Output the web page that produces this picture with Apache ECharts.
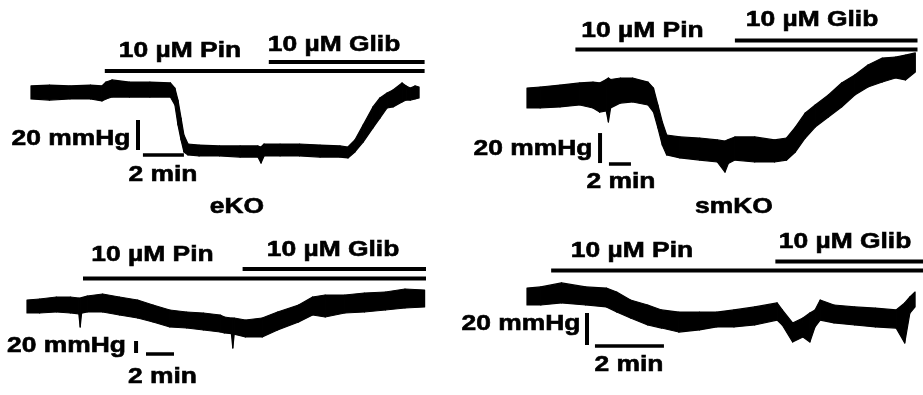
<!DOCTYPE html>
<html>
<head>
<meta charset="utf-8">
<title>Perfusion pressure traces</title>
<script src="https://cdn.jsdelivr.net/npm/echarts@6.0.0/dist/echarts.min.js"></script>
<style>
html, body { margin: 0; padding: 0; background: #fff; }
#chart { width: 923px; height: 395px; }
</style>
</head>
<body>
<div id="chart"></div>
<script>
// labels
const groupNames = ['eKO', 'smKO'];
const drugLabels = ['10 µM Pin', '10 µM Glib'];
const scaleLabels = ['20 mmHg', '2 min'];
const scaleMmHg = 20;
const scaleMin = 2;

// drug application per trace (min): A = eKO top, B = smKO top, C = eKO bottom, D = smKO bottom
const pinOn = [3.6, 4.4, 4.0, 0.7];
const glibOn = [11.6, 18.9, 15.4, 7.2];
const drugEnd = [19.2, 35.5, 28.5, 11.48];

// trace A (min, mmHg upper / lower edge of the noisy band)
const aTime = [0, 0.9, 1.9, 2.9, 3.46, 3.66, 3.95, 4.8, 5.8, 6.8, 7.02, 7.17, 7.32, 7.46, 7.66, 8.2, 9.2, 10.2, 11.07, 11.22, 11.37, 12.15, 13.1, 14.1, 15.07, 15.46, 15.8, 16.2, 16.68, 17.02, 17.37, 17.66, 18.1, 18.3, 18.5, 18.73, 18.93];
const aHigh = [84.7, 85.3, 84.7, 85.3, 84.7, 87.3, 88.7, 87.3, 87.3, 86.7, 83.3, 75.3, 63.3, 52.0, 46.0, 45.3, 44.7, 44.7, 44.7, 44.0, 46.0, 46.0, 46.0, 45.3, 44.7, 44.0, 48.7, 58.7, 70.7, 76.7, 80.0, 82.0, 86.7, 84.7, 83.3, 84.7, 84.0];
const aLow = [76.0, 75.3, 76.0, 76.0, 74.7, 76.0, 77.3, 77.3, 77.3, 77.3, 72.0, 58.7, 48.7, 40.7, 38.7, 38.0, 38.0, 37.3, 37.3, 33.3, 38.0, 38.0, 38.0, 37.3, 37.3, 36.7, 40.7, 47.3, 56.7, 63.3, 70.0, 70.7, 74.0, 75.3, 75.3, 76.0, 76.7];

// trace B
const bTime = [0, 1.2, 3.0, 4.8, 6.0, 6.6, 7.2, 7.4, 7.6, 8.5, 9.6, 11.0, 11.5, 11.9, 12.3, 12.7, 13.9, 15.7, 17.3, 18.0, 18.3, 18.9, 20.7, 22.5, 23.6, 24.4, 25.3, 26.2, 27.4, 28.6, 29.8, 31.0, 32.3, 33.5, 34.4, 35.3];
const bHigh = [83.3, 84, 85.3, 86.7, 87.3, 86.7, 89, 90, 89, 90, 90, 87.3, 83.3, 72, 60.7, 52, 50.7, 50, 48.7, 48, 49, 50.7, 50.7, 48.7, 50, 57.3, 66.7, 72, 78.7, 86.7, 92, 98.7, 103.3, 104, 105.3, 106.7];
const bLow = [70, 70, 70.7, 72, 70, 67.3, 68, 60.7, 70, 73.3, 74, 72, 67.3, 56.7, 45.3, 38.7, 36.7, 35.3, 34, 27.3, 33, 35.3, 34, 34, 35.3, 40.7, 50, 57.3, 64, 70.7, 78.7, 84, 87.3, 90, 88.7, 94];

// trace C
const cTime = [0, 0.9, 2.1, 3.1, 3.7, 3.8, 3.9, 4.3, 5.4, 6.6, 7.9, 9.0, 10.2, 11.4, 12.6, 13.8, 14.1, 14.6, 14.7, 14.8, 15.6, 16.8, 17.9, 19.4, 20.4, 21.3, 22.7, 24.1, 25.6, 27.0, 28.4];
const cHigh = [85, 86.7, 90, 90, 88.3, 88.3, 89, 91.7, 95, 90, 85, 76.7, 68.3, 65, 63.3, 60, 56.7, 55, 55, 55, 51.7, 55, 65, 76.7, 90, 93.3, 93.3, 96.7, 98.3, 103.3, 101.7];
const cLow = [63.3, 63.3, 65, 63.3, 62, 40, 63, 65, 65, 60, 55, 48.3, 40, 38.3, 35, 31.7, 30, 29, 5, 28, 23.3, 23.3, 35, 48.3, 60, 56.7, 63.3, 65, 68.3, 71.7, 73.3];

// trace D
const dTime = [0, 0.4, 1.0, 1.7, 2.3, 2.6, 3.0, 3.5, 3.9, 4.4, 5.0, 5.5, 6.0, 6.6, 7.25, 7.4, 7.7, 8.0, 8.2, 8.35, 8.5, 8.9, 9.5, 10.1, 10.7, 10.95, 11.1, 11.25];
const dHigh = [83.1, 83.8, 86.3, 83.8, 83.1, 80.6, 75.6, 72.5, 69.4, 68.1, 68.1, 68.1, 69.4, 71.3, 73.8, 69.4, 61.3, 64.4, 67.5, 69.4, 75.6, 72.5, 71.3, 70.6, 69.4, 73.8, 77.5, 80.6];
const dLow = [72.5, 72.5, 73.8, 72.5, 71.3, 68.1, 64.4, 60, 58.1, 55.6, 56.9, 58.8, 58.8, 60, 63.1, 60, 49.4, 52.5, 49.4, 58.8, 63.1, 61.3, 60, 58.8, 58.1, 48.8, 67.5, 71.3];

const traces = [
  { time: aTime, high: aHigh, low: aLow },
  { time: bTime, high: bHigh, low: bLow },
  { time: cTime, high: cHigh, low: cLow },
  { time: dTime, high: dHigh, low: dLow }
];

// layout of each panel: grid box, axis ranges, level of the drug bars, scale bar anchors
const panels = [
  { grid: { left: 31, top: 3, width: 410, height: 210 }, x: [0, 20], y: [0, 140],
    pinY: 94.7, glibY: 100.7, vBar: [5.22, 42], hBar: [5.46, 38.7] },
  { grid: { left: 527, top: 3, width: 396, height: 210 }, x: [0, 36], y: [0, 140],
    pinY: 109, glibY: 115, vBar: [6.64, 33.3], hBar: [7.45, 32.7] },
  { grid: { left: 27, top: 231, width: 420, height: 132 }, x: [0, 30], y: [-20, 200],
    pinY: 120.8, glibY: 136.7, vBar: [7.79, -3.3], hBar: [8.5, -5] },
  { grid: { left: 527, top: 229, width: 396, height: 160 }, x: [0, 11.48], y: [20, 120],
    pinY: 94.1, glibY: 99.7, vBar: [1.74, 47.5], hBar: [1.97, 46.9] }
];

// text positions (centre, px)
const textSpots = [
  [drugLabels[0], 180, 50.5], [drugLabels[1], 334, 45], [scaleLabels[0], 71, 139], [scaleLabels[1], 163, 174.5],
  [drugLabels[0], 642.5, 30.5], [drugLabels[1], 812, 20], [scaleLabels[0], 533, 148.5], [scaleLabels[1], 621, 181.5],
  [drugLabels[0], 152.5, 255], [drugLabels[1], 333, 250], [scaleLabels[0], 66.5, 346], [scaleLabels[1], 162.5, 376.5],
  [drugLabels[0], 632, 250.5], [drugLabels[1], 845, 241.5], [scaleLabels[0], 521, 324], [scaleLabels[1], 629, 365],
  [groupNames[0], 237, 207], [groupNames[1], 734, 207]
];

const black = '#000';
const chart = echarts.init(document.getElementById('chart'));

const grids = [];
const xAxes = [];
const yAxes = [];
const series = [];

const segment = (i, data, width) => ({
  type: 'line',
  xAxisIndex: i,
  yAxisIndex: i,
  data: data,
  symbol: 'none',
  silent: true,
  lineStyle: { color: black, width: width, cap: 'butt' }
});

// one quad per pair of neighbouring samples, filled between the lower and upper edge
const bandItem = (params, api) => {
  const a0 = api.coord([api.value(0), api.value(1)]);
  const a1 = api.coord([api.value(0), api.value(2)]);
  const b1 = api.coord([api.value(3), api.value(5)]);
  const b0 = api.coord([api.value(3), api.value(4)]);
  return {
    type: 'polygon',
    shape: { points: [a1, b1, b0, a0] },
    style: { fill: black, stroke: black, lineWidth: 1.2, lineJoin: 'round' }
  };
};

panels.forEach((p, i) => {
  grids.push(Object.assign({ outerBoundsMode: 'none' }, p.grid));
  xAxes.push({ type: 'value', gridIndex: i, min: p.x[0], max: p.x[1], show: false });
  yAxes.push({ type: 'value', gridIndex: i, min: p.y[0], max: p.y[1], show: false });

  const tr = traces[i];
  const quads = [];
  for (let k = 0; k < tr.time.length - 1; k++) {
    quads.push([tr.time[k], tr.low[k], tr.high[k], tr.time[k + 1], tr.low[k + 1], tr.high[k + 1]]);
  }
  series.push({
    type: 'custom',
    xAxisIndex: i,
    yAxisIndex: i,
    data: quads,
    encode: { x: [0, 3], y: [1, 2, 4, 5] },
    renderItem: bandItem,
    silent: true
  });

  series.push(segment(i, [[pinOn[i], p.pinY], [drugEnd[i], p.pinY]], 4));
  series.push(segment(i, [[glibOn[i], p.glibY], [drugEnd[i], p.glibY]], 4));
  series.push(segment(i, [[p.vBar[0], p.vBar[1]], [p.vBar[0], p.vBar[1] + scaleMmHg]], 4));
  series.push(segment(i, [[p.hBar[0], p.hBar[1]], [p.hBar[0] + scaleMin, p.hBar[1]]], 3.5));
});

chart.setOption({
  animation: false,
  backgroundColor: '#fff',
  grid: grids,
  xAxis: xAxes,
  yAxis: yAxes,
  series: series,
  graphic: textSpots.map(s => ({
    type: 'text',
    x: s[1],
    y: s[2],
    scaleX: 1.2,
    silent: true,
    style: {
      text: s[0],
      font: 'bold 22px "Liberation Sans", Arial, sans-serif',
      fill: black,
      stroke: black,
      lineWidth: 0.6,
      align: 'center',
      verticalAlign: 'middle'
    }
  }))
});

window.addEventListener('resize', () => chart.resize());
</script>
</body>
</html>
